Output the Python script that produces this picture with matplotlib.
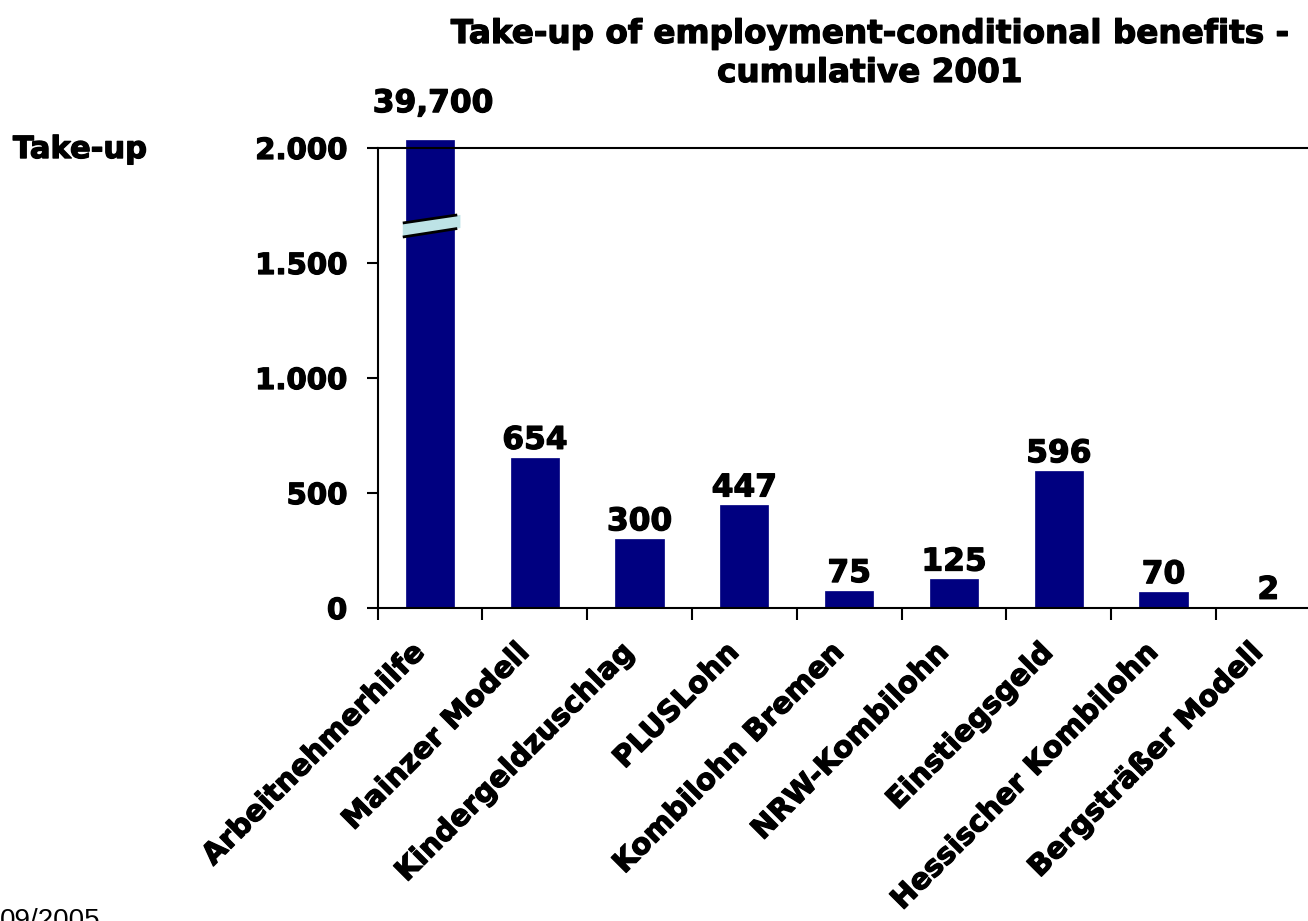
import matplotlib.pyplot as plt
import numpy as np
from matplotlib.patches import Polygon
import matplotlib.patheffects as pe

plt.rcParams['font.family'] = 'DejaVu Sans'
plt.rcParams['font.weight'] = 'bold'

# ---- data ---- #
programmes = ['Arbeitnehmerhilfe', 'Mainzer Modell', 'Kindergeldzuschlag', 'PLUSLohn',
              'Kombilohn Bremen', 'NRW-Kombilohn', 'Einstiegsgeld',
              'Hessischer Kombilohn', 'Bergsträßer Modell']
take_up = [39700, 654, 300, 447, 75, 125, 596, 70, 2]
value_labels = ['39,700', '654', '300', '447', '75', '125', '596', '70', '2']
y_ticks = [0, 500, 1000, 1500, 2000]
y_tick_labels = ['0', '500', '1.000', '1.500', '2.000']
y_top = 2000
bar_clip = 2035   # tallest bar is cut just above the axis top

heavy = [pe.withStroke(linewidth=0.9, foreground='black')]

fig = plt.figure(figsize=(13.08, 9.21), dpi=100)
ax = fig.add_axes([0.2887, 0.3398, 0.721, 0.4995])

x = np.arange(len(programmes))
heights = [min(v, bar_clip) for v in take_up]
ax.bar(x, heights, width=0.46, color='#000080', edgecolor='#000080', linewidth=0.5, clip_on=False)

ax.set_xlim(-0.5, len(programmes) - 0.5)
ax.set_ylim(0, y_top)

# value labels above each bar
for xi, v, lab in zip(x, take_up, value_labels):
    ytxt = bar_clip + 95 if v > y_top else v + 12
    ax.text(xi + (0.03 if v > y_top else 0), ytxt, lab, ha='center', va='bottom',
            fontsize=22.5, fontweight='bold', clip_on=False, path_effects=heavy)

# axis break on the first bar
brk = Polygon([[-0.26, 1613], [0.29, 1652], [0.29, 1709], [-0.26, 1674]],
              closed=True, facecolor='#BDE3E6', edgecolor='none', zorder=3)
ax.add_patch(brk)
ax.plot([-0.26, 0.26], [1674, 1709], color='black', lw=2, zorder=4, solid_capstyle='butt')
ax.plot([-0.26, 0.26], [1613, 1650], color='black', lw=2, zorder=4, solid_capstyle='butt')

# ---- axes styling ---- #
ax.set_yticks(y_ticks)
ax.set_yticklabels(y_tick_labels, fontsize=21, fontweight='bold')
ax.set_xticks(np.arange(len(programmes) + 1) - 0.5, minor=False)
ax.set_xticklabels([])
ax.set_xticks(x, minor=True)
ax.set_xticklabels(programmes, minor=True, rotation=45, ha='right', va='bottom',
                   rotation_mode='anchor', fontsize=21, fontweight='bold')
for lbl in ax.get_xticklabels(minor=True) + ax.get_yticklabels():
    lbl.set_path_effects(heavy)
ax.tick_params(axis='x', which='major', direction='out', length=8.6, width=1.5)
ax.tick_params(axis='x', which='minor', length=0, pad=36)
ax.tick_params(axis='y', direction='out', length=7.9, width=1.5, pad=14)

for side in ['left', 'bottom', 'top']:
    ax.spines[side].set_linewidth(1.5)
ax.spines['right'].set_visible(False)

# two-line title, one text per line
fig.text(0.665, 0.9533, 'Take-up of employment-conditional benefits -',
         ha='center', va='baseline', fontsize=23.5, fontweight='bold', path_effects=heavy)
fig.text(0.665, 0.911, 'cumulative 2001',
         ha='center', va='baseline', fontsize=23.5, fontweight='bold', path_effects=heavy)
fig.text(0.0099, 0.8284, 'Take-up', ha='left', va='baseline', fontsize=22, fontweight='bold',
         path_effects=heavy)
fig.text(0.0765, 0.0141, '09/2005', ha='right', va='top', fontsize=20, fontweight='normal',
         family='Liberation Sans')

plt.savefig('out.png', dpi=100)
